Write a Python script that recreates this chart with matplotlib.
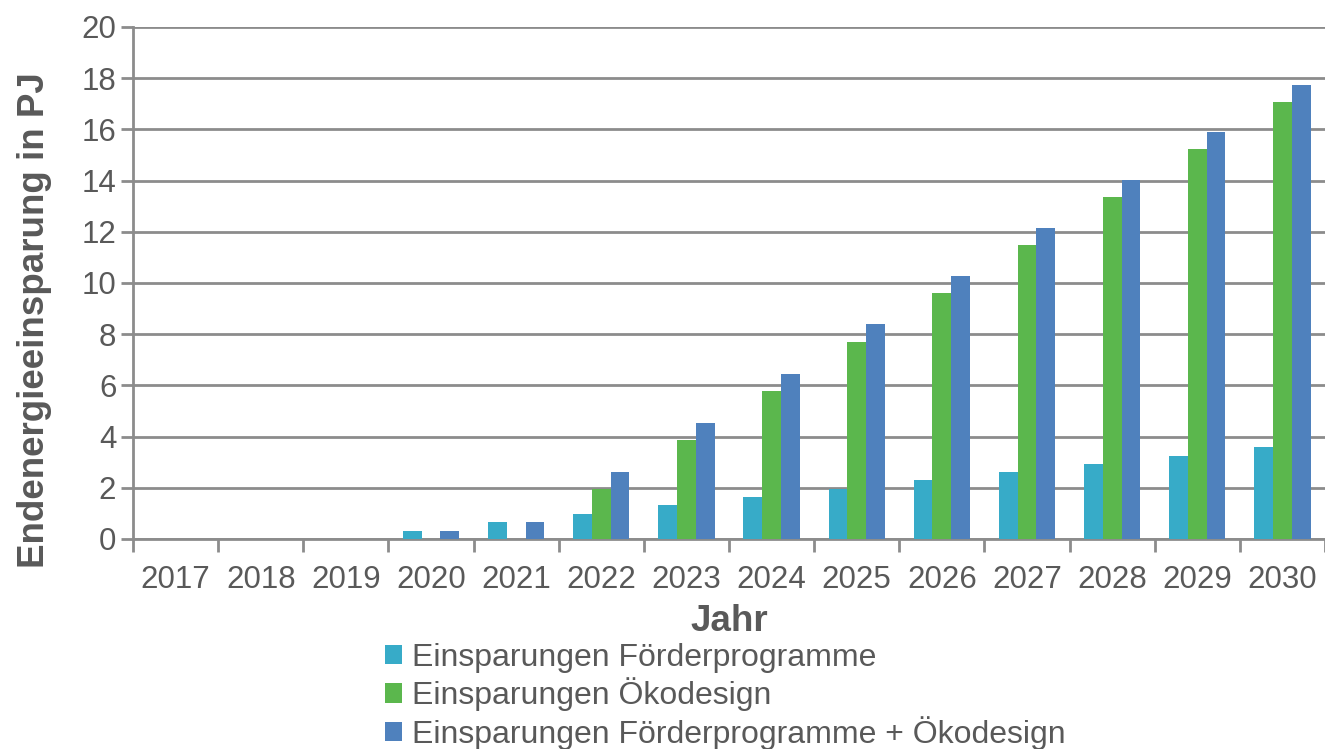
import numpy as np
import matplotlib.pyplot as plt
from matplotlib.patches import Patch

years = ['2017', '2018', '2019', '2020', '2021', '2022', '2023',
         '2024', '2025', '2026', '2027', '2028', '2029', '2030']
foerder = [0, 0, 0, 0.33, 0.66, 0.99, 1.32, 1.65, 1.97, 2.30, 2.62, 2.94, 3.26, 3.58]
oekodesign = [0, 0, 0, 0, 0, 1.95, 3.87, 5.80, 7.70, 9.60, 11.50, 13.35, 15.23, 17.07]
kombiniert = [0, 0, 0, 0.33, 0.66, 2.60, 4.55, 6.45, 8.38, 10.27, 12.15, 14.03, 15.88, 17.75]

labels = ['Einsparungen Förderprogramme',
          'Einsparungen Ökodesign',
          'Einsparungen Förderprogramme + Ökodesign']
colors = ['#37ABC8', '#5BB74D', '#4F81BD']

plt.rcParams['font.family'] = ['Liberation Sans', 'DejaVu Sans']
grey = '#595959'
line = '#8c8c8c'

fig = plt.figure(figsize=(13.25, 7.49), dpi=100)
ax = fig.add_axes([133/1325, 1-539/749, 1-133/1325, (539-27)/749])

x = np.arange(len(years))
w = 0.22
for i, vals in enumerate([foerder, oekodesign, kombiniert]):
    ax.bar(x + (i-1)*w, vals, width=w, color=colors[i], zorder=3)

ax.set_xlim(-0.5, len(years)-0.5)
ax.set_ylim(0, 20)
ax.set_yticks(range(0, 21, 2))
ax.grid(axis='y', color=line, linewidth=2, zorder=0)

# ticks between categories, labels centred
ax.set_xticks(np.arange(-0.5, len(years), 1))
ax.set_xticklabels([])
ax.set_xticks(x, minor=True)
ax.set_xticklabels(years, minor=True)
ax.tick_params(axis='x', which='major', length=9, width=2, color=line, direction='out')
ax.tick_params(axis='x', which='minor', length=0, pad=19, labelsize=22.5, labelcolor=grey)
ax.tick_params(axis='y', length=9, width=2, color=line, labelsize=22.5, labelcolor=grey, pad=3)

for s in ['top', 'right']:
    ax.spines[s].set_visible(False)
ax.spines['left'].set_color(line)
ax.spines['left'].set_linewidth(2)
ax.spines['bottom'].set_color(line)
ax.spines['bottom'].set_linewidth(2)
ax.spines['left'].set_zorder(4)

ax.set_ylabel('Endenergieeinsparung in PJ', fontsize=26.5, fontweight='bold', color=grey)
ax.yaxis.set_label_coords(-0.068, 0.428)
ax.set_xlabel('Jahr', fontsize=26.5, fontweight='bold', color=grey, labelpad=6)

handles = [Patch(facecolor=c) for c in colors]
fig.legend(handles, labels, loc='upper left', bbox_to_anchor=(372/1325, 1-630/749),
           frameon=False, fontsize=23, labelcolor=grey, handlelength=0.55, handleheight=0.55,
           handletextpad=0.3, labelspacing=0.15, borderaxespad=0)

fig.savefig('out.png', dpi=100)
